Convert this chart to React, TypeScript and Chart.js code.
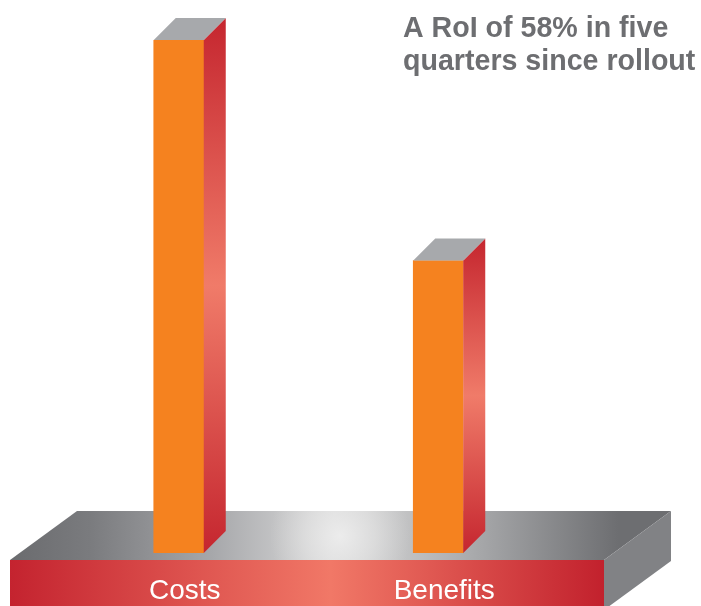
import React, { useEffect, useRef } from "react";
import { Chart, registerables } from "chart.js";

Chart.register(...registerables);

const categories = ["Costs", "Benefits"];
const values = [100, 57];
const titleLines = ["A RoI of 58% in five", "quarters since rollout"];

const ORANGE = "#f5821f";
const RED = "#c5262f";
const SALMON = "#f07b69";
const TOPGRAY = "#a7a9ac";

const threeD = {
  id: "threeD",
  beforeDraw(chart: any) {
    const { ctx, chartArea } = chart;
    const fl = chartArea.left - 39;
    const fr = chartArea.right + 36;
    const ft = chartArea.bottom + 7;
    const fb = chart.height + 10;
    const dx = 67;
    const dy = -49;
    ctx.save();
    // top face
    const tg = ctx.createLinearGradient(fl, 0, fr + dx, 0);
    tg.addColorStop(0, "#6a6b6e");
    tg.addColorStop(0.12, "#7a7b7e");
    tg.addColorStop(0.3, "#a5a6a9");
    tg.addColorStop(0.49, "#dcdcdc");
    tg.addColorStop(0.7, "#a9aaac");
    tg.addColorStop(0.92, "#6d6e71");
    tg.addColorStop(1, "#6d6e71");
    ctx.beginPath();
    ctx.moveTo(fl, ft);
    ctx.lineTo(fr, ft);
    ctx.lineTo(fr + dx, ft + dy);
    ctx.lineTo(fl + dx, ft + dy);
    ctx.closePath();
    ctx.fillStyle = tg;
    ctx.fill();
    ctx.save();
    ctx.clip();
    const cx = 340, cy = 536;
    const rg = ctx.createRadialGradient(cx, cy, 0, cx, cy, 70);
    rg.addColorStop(0, "rgba(236,236,236,1)");
    rg.addColorStop(0.5, "rgba(228,228,228,0.6)");
    rg.addColorStop(1, "rgba(220,220,220,0)");
    ctx.fillStyle = rg;
    ctx.fillRect(cx - 80, cy - 80, 160, 160);
    ctx.restore();
    // front face
    const fg = ctx.createLinearGradient(fl, 0, fr, 0);
    fg.addColorStop(0, "#c4232f");
    fg.addColorStop(0.54, "#f17867");
    fg.addColorStop(1, "#c2212d");
    ctx.fillStyle = fg;
    ctx.fillRect(fl, ft, fr - fl, fb - ft);
    // right face
    ctx.beginPath();
    ctx.moveTo(fr, ft);
    ctx.lineTo(fr + dx, ft + dy);
    ctx.lineTo(fr + dx, ft + dy + 50);
    ctx.lineTo(fr, ft + 50);
    ctx.closePath();
    ctx.fillStyle = "#818285";
    ctx.fill();
    ctx.restore();
  },
  afterDatasetsDraw(chart: any) {
    const { ctx } = chart;
    const meta = chart.getDatasetMeta(0);
    const dx = 22;
    const dy = -22;
    ctx.save();
    meta.data.forEach((bar: any) => {
      const { x, y, base, width } = bar.getProps(["x", "y", "base", "width"], true);
      const l = x - width / 2;
      const r = x + width / 2;
      const sg = ctx.createLinearGradient(0, y + dy, 0, base);
      sg.addColorStop(0, RED);
      sg.addColorStop(0.5, SALMON);
      sg.addColorStop(1, RED);
      ctx.beginPath();
      ctx.moveTo(r, y);
      ctx.lineTo(r + dx, y + dy);
      ctx.lineTo(r + dx, base + dy);
      ctx.lineTo(r, base);
      ctx.closePath();
      ctx.fillStyle = sg;
      ctx.fill();
      ctx.beginPath();
      ctx.moveTo(l, y);
      ctx.lineTo(r, y);
      ctx.lineTo(r + dx, y + dy);
      ctx.lineTo(l + dx, y + dy);
      ctx.closePath();
      ctx.fillStyle = TOPGRAY;
      ctx.fill();
    });
    ctx.restore();
  },
  afterDraw(chart: any) {
    const { ctx } = chart;
    ctx.save();
    ctx.font = 'bold 28.6px "Liberation Sans", Arial, sans-serif';
    ctx.fillStyle = "#6d6e71";
    ctx.textAlign = "left";
    ctx.textBaseline = "alphabetic";
    ctx.fillText(titleLines[0], 403, 37);
    ctx.fillText(titleLines[1], 403, 70);
    ctx.restore();
  },
};

export default function App() {
  const ref = useRef<HTMLCanvasElement>(null);
  useEffect(() => {
    if (!ref.current) return;
    const chart = new Chart(ref.current, {
      type: "bar",
      data: {
        labels: categories,
        datasets: [
          {
            data: values,
            backgroundColor: ORANGE,
            borderWidth: 0,
            barThickness: 50,
          },
        ],
      },
      options: {
        responsive: false,
        animation: false,
        layout: { padding: { left: 49, right: 133, top: 40, bottom: 0 } },
        plugins: { legend: { display: false }, tooltip: { enabled: false }, title: { display: false } },
        scales: {
          y: { display: false, min: 0, max: 100 },
          x: {
            grid: { display: false, drawTicks: false },
            border: { display: false },
            afterFit: (scale: any) => {
              scale.height = 53;
            },
            ticks: {
              color: "#ffffff",
              padding: 21,
              labelOffset: 6,
              font: { family: '"Liberation Sans", Arial, sans-serif', size: 28 },
            },
          },
        },
      },
      plugins: [threeD],
    });
    return () => chart.destroy();
  }, []);
  return (
    <div style={{ position: "fixed", left: 0, top: 0, width: 701, height: 606, background: "#fff" }}>
      <canvas ref={ref} width={701} height={606} />
    </div>
  );
}
